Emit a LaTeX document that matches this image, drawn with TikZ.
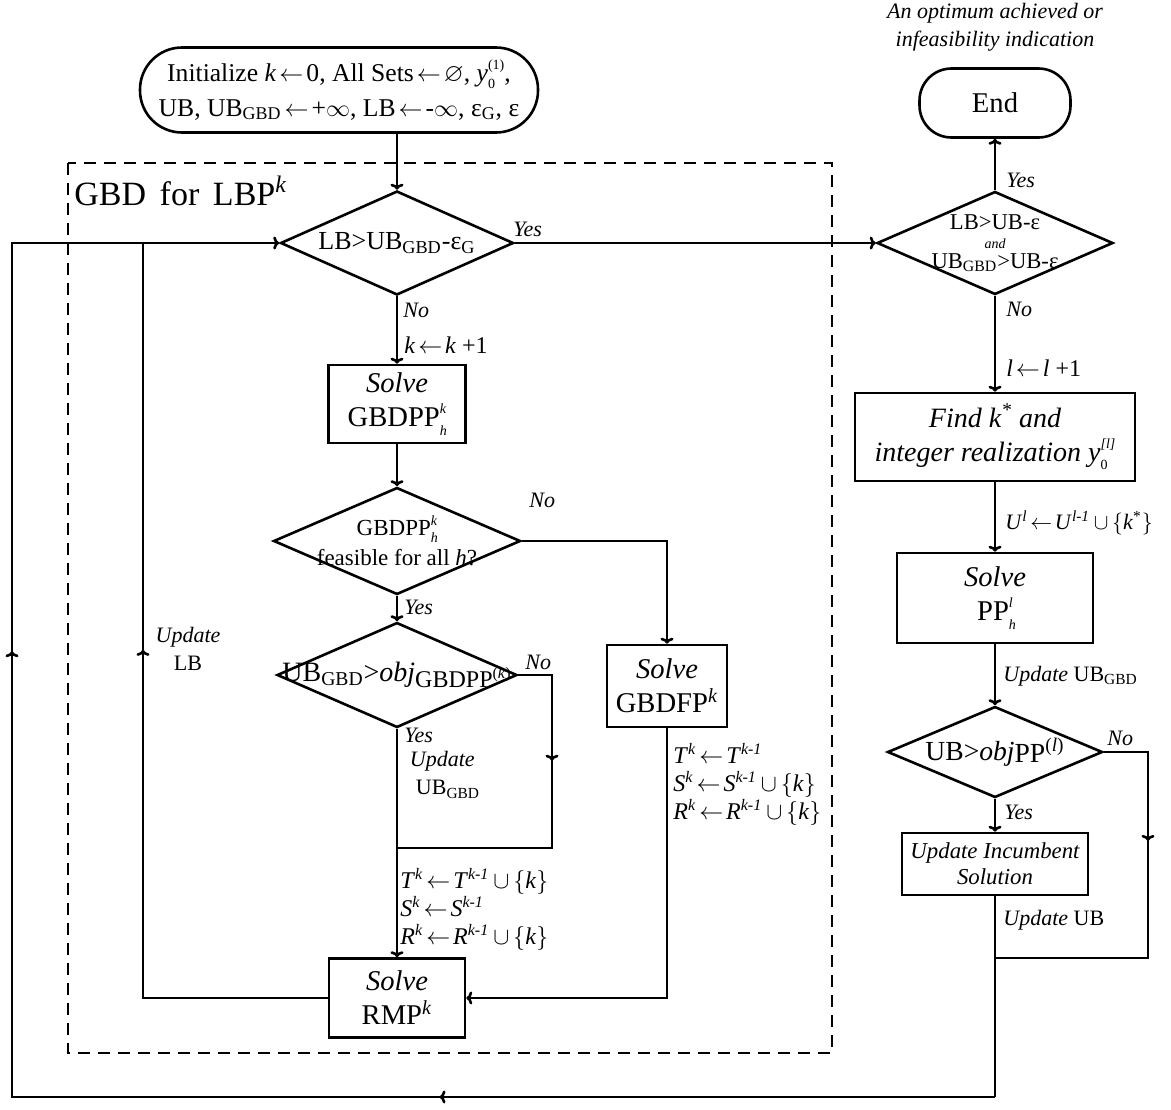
\documentclass[tikz,border=0pt]{standalone}
\usepackage{fontspec}
\usepackage{amssymb}
\setmainfont{Liberation Serif}
\usetikzlibrary{positioning, shapes.geometric, arrows.meta, decorations.markings}
\newcommand{\mainsize}{\fontsize{14.3}{17}\selectfont}
\newcommand{\labelsize}{\fontsize{11}{14}\selectfont}
\newcommand{\supsub}[2]{\rlap{\raisebox{-0.3em}{\scriptsize #2}}\raisebox{0.45em}{\scriptsize #1}}
\newcommand{\assign}{\hspace{0.12em}$\leftarrow$\hspace{0.12em}}

\begin{document}
\begin{tikzpicture}[x=0.5pt, y=-0.5pt,
    box/.style={rectangle, draw, line width=1.3pt, align=center, font=\mainsize, inner sep=2pt},
    term/.style={box, rounded corners=18pt},
    dec/.style={diamond, draw, line width=1.3pt, inner sep=0pt},
    dtext/.style={align=center, font=\mainsize, inner sep=0pt},
    link/.style={line width=1.3pt},
    arrow/.style={link, -{To[length=3pt, width=6.5pt]}},
    midarrow/.style={postaction={decorate, decoration={markings,
        mark=at position #1 with {\arrow{To[length=3pt, width=6.5pt]}}}}},
    lbl/.style={font=\labelsize\itshape, inner sep=1pt, anchor=west},
    tag/.style={font=\labelsize, inner sep=1pt, anchor=west, align=left},
    sets/.style={tag, font=\fontsize{12}{14}\selectfont}
]
\useasboundingbox (0,0) rectangle (1171,1109);

% terminals
\node[font=\labelsize\itshape, align=center] (note) at (995,27) {An optimum achieved or\\infeasibility indication};
\node[term, minimum width=199pt, minimum height=42.5pt, rounded corners=21pt, font=\fontsize{12.8}{17.5}\selectfont] (start) at (339,90)
    {Initialize \textit{k}\assign0, All Sets\assign$\varnothing$, \textit{y}\supsub{(1)}{0},\\
     UB, UB\textsubscript{GBD}\assign+$\infty$, LB\assign-$\infty$, ε\textsubscript{G}, ε};
\node[term, minimum width=75.5pt, minimum height=34.5pt, rounded corners=16pt] (fin) at (995,103) {End};

% GBD frame
\draw[dash pattern=on 6pt off 4pt, line width=1pt] (68,163) rectangle (832,1053);
\node[anchor=west, inner sep=0pt, font=\fontsize{17}{20}\selectfont] (title) at (74,191) {GBD\hspace{0.4em}for\hspace{0.4em}LBP\textsuperscript{\textit{k}}};

% decisions
\node[dec, minimum width=116.5pt, minimum height=52pt,
      label={[dtext, font=\fontsize{13}{15}\selectfont]center:LB>UB\textsubscript{GBD}-ε\textsubscript{G}}] (d1) at (397,243) {};
\node[dec, minimum width=118pt, minimum height=51.5pt,
      label={[dtext, font=\fontsize{11.3}{9.8}\selectfont]center:LB>UB-ε\\{\fontsize{7}{7}\selectfont\itshape and}\\UB\textsubscript{GBD}>UB-ε}] (d2) at (995,243) {};
\node[dec, minimum width=123.5pt, minimum height=53.5pt,
      label={[dtext, font=\fontsize{11.5}{15}\selectfont]center:GBDPP\supsub{\textit{k}}{\textit{h}}\\feasible for all \textit{h}?}] (d3) at (397,541) {};
\node[dec, minimum width=120pt, minimum height=52.5pt,
      label={[dtext, font=\fontsize{14}{16}\selectfont]center:UB\textsubscript{GBD}>\textit{obj}\raisebox{-3pt}{\fontsize{12}{12}\selectfont GBDPP\textsuperscript{(\textit{k})}}}] (d4) at (397,675) {};
\node[dec, minimum width=107.5pt, minimum height=45.5pt,
      label={[dtext, font=\fontsize{13.8}{16}\selectfont]center:UB>\textit{obj}\raisebox{-1pt}{PP\textsuperscript{(\textit{l})}}}] (d5) at (995,752) {};

% processes
\node[box, minimum width=68.5pt, minimum height=39pt] (gbdpp) at (397,404) {\textit{Solve}\\GBDPP\supsub{\textit{k}}{\textit{h}}};
\node[box, minimum width=60pt, minimum height=41pt] (gbdfp) at (667,686) {\textit{Solve}\\GBDFP\textsuperscript{\textit{k}}};
\node[box, minimum width=68pt, minimum height=39.5pt] (rmp) at (397,998) {\textit{Solve}\\RMP\textsuperscript{\textit{k}}};
\node[box, minimum width=140pt, minimum height=44pt, font=\fontsize{14}{17}\selectfont\itshape] (find) at (995,437)
    {Find k\textsuperscript{*} and\\integer realization y\supsub{[\textit{l}]}{\upshape 0}};
\node[box, minimum width=98pt, minimum height=45pt] (pp) at (995,598) {\textit{Solve}\\PP\supsub{\textit{l}}{\textit{h}}};
\node[box, minimum width=93pt, minimum height=31pt, font=\fontsize{11.4}{13}\selectfont\itshape] (inc) at (995,864) {Update Incumbent\\Solution};

% bends
\coordinate (nr) at (1148,752);
\coordinate (nrb) at (1148,958);
\coordinate (jr) at (995,958);
\coordinate (br) at (995,1097);
\coordinate (bl) at (12,1097);
\coordinate (tl) at (12,243);
\coordinate (nl) at (552,675);
\coordinate (nlb) at (552,848);
\coordinate (jl) at (397,848);
\coordinate (lr) at (143,998);
\coordinate (lt) at (143,243);

% connectors
\draw[arrow] (d1.north |- start.south) -- (d1.north);
\draw[arrow] (d1.east) -- (d2.west);
\draw[arrow] (d2.north) -- (fin.south);
\draw[arrow] (d2.south) -- (find.north);
\draw[arrow] (find.south) -- (pp.north);
\draw[arrow] (pp.south) -- (d5.north);
\draw[arrow] (d5.south) -- (inc.north);
\draw[link, midarrow=0.33] (d5.east) -- (nr) -- (nrb) -- (jr);
\draw[link] (inc.south) -- (br);
\draw[arrow, midarrow=0.264, midarrow=0.679] (br) -- (bl) -- (tl) -- (d1.west);

\draw[arrow] (d1.south) -- (gbdpp.north);
\draw[arrow] (gbdpp.south) -- (d3.north);
\draw[arrow] (d3.east) -| (gbdfp.north);
\draw[arrow] (d3.south) -- (d4.north);
\draw[link, midarrow=0.33] (d4.east) -- (nl) -- (nlb) -- (jl);
\draw[arrow] (d4.south) -- (rmp.north);
\draw[arrow] (gbdfp.south) |- (rmp.east);
\draw[link, midarrow=0.567] (rmp.west) -- (lr) -- (lt);

% labels
\node[lbl] at (511,229) {Yes};
\node[lbl] at (1004,180) {Yes};
\node[lbl] at (1004,309) {No};
\node[sets] at (1004,368) {\textit{l}\assign\textit{l} +1};
\node[tag] at (1003,523) {\textit{U}\textsuperscript{\textit{l}}\assign\textit{U}\textsuperscript{\textit{l-1}}\,$\cup$\,$\{$\textit{k}\textsuperscript{*}$\}$};
\node[tag] at (1001,676) {\textit{Update} UB\textsubscript{GBD}};
\node[lbl] at (1105,738) {No};
\node[lbl] at (1002,812) {Yes};
\node[tag] at (1001,920) {\textit{Update} UB};

\node[lbl] at (401,310) {No};
\node[sets] at (402,345) {\textit{k}\assign\textit{k} +1};
\node[lbl] at (527,500) {No};
\node[lbl] at (402,607) {Yes};
\node[lbl] at (523,662) {No};
\node[lbl] at (402,735) {Yes};
\node[tag, anchor=center, align=left] at (445,775) {\textit{Update}\\\hspace{3pt}UB\textsubscript{GBD}};
\node[sets, anchor=north west] at (398,866) {\textit{T}\textsuperscript{\textit{k}}\assign\textit{T}\textsuperscript{\textit{k-1}}\,$\cup$\,$\{$\textit{k}$\}$\\
    \textit{S}\textsuperscript{\textit{k}}\assign\textit{S}\textsuperscript{\textit{k-1}}\\
    \textit{R}\textsuperscript{\textit{k}}\assign\textit{R}\textsuperscript{\textit{k-1}}\,$\cup$\,$\{$\textit{k}$\}$};
\node[sets, anchor=north west] at (671,741) {\textit{T}\textsuperscript{\textit{k}}\assign\textit{T}\textsuperscript{\textit{k-1}}\\
    \textit{S}\textsuperscript{\textit{k}}\assign\textit{S}\textsuperscript{\textit{k-1}}\,$\cup$\,$\{$\textit{k}$\}$\\
    \textit{R}\textsuperscript{\textit{k}}\assign\textit{R}\textsuperscript{\textit{k-1}}\,$\cup$\,$\{$\textit{k}$\}$};
\node[tag, anchor=center, align=center] at (188,649) {\textit{Update}\\LB};
\end{tikzpicture}
\end{document}
